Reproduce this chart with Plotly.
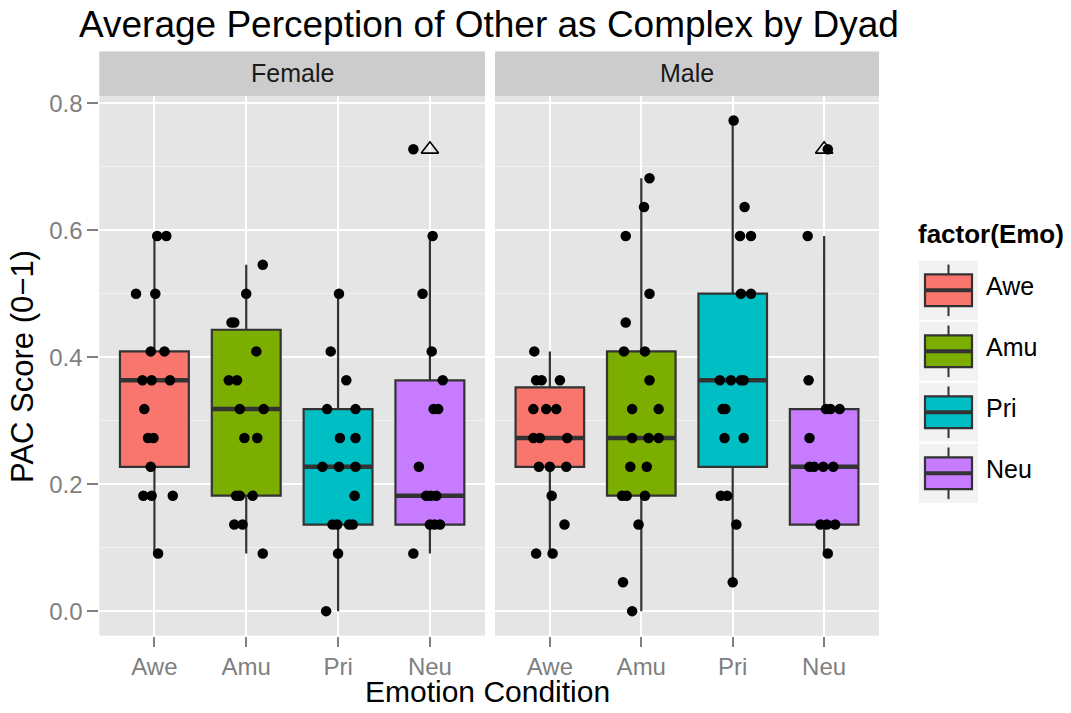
import plotly.graph_objects as go

W, H = 1071, 713
FONT = "Liberation Sans, Arial, sans-serif"

# ---------------- data ----------------
categories = ["Awe", "Amu", "Pri", "Neu"]
panels = ["Female", "Male"]
colors = ["#F8766D", "#7CAE00", "#00BFC4", "#C77CFF"]
y_tickvals = [0.0, 0.2, 0.4, 0.6, 0.8]
y_ticktext = ["0.0", "0.2", "0.4", "0.6", "0.8"]

# box statistics
female_q1 = [0.2273, 0.1818, 0.1364, 0.1364]
female_median = [0.3636, 0.3182, 0.2273, 0.1818]
female_q3 = [0.4091, 0.4432, 0.3182, 0.3636]
female_lower = [0.0909, 0.0909, 0.0, 0.0909]
female_upper = [0.5909, 0.5455, 0.5, 0.5909]

male_q1 = [0.2273, 0.1818, 0.2273, 0.1364]
male_median = [0.2727, 0.2727, 0.3636, 0.2273]
male_q3 = [0.3523, 0.4091, 0.5, 0.3182]
male_lower = [0.0909, 0.0, 0.0455, 0.0909]
male_upper = [0.4091, 0.6818, 0.7727, 0.5909]

# boxplot outliers
female_outlier_cat = ["Neu"]
female_outlier_val = [0.7273]
male_outlier_cat = ["Neu"]
male_outlier_val = [0.7273]

# jittered observations: values and horizontal jitter (category units)
female_awe_vals = [0.5909, 0.5909, 0.5, 0.5, 0.4091, 0.4091, 0.3636, 0.3636, 0.3636, 0.3182,
                   0.2727, 0.2727, 0.2273, 0.1818, 0.1818, 0.1818, 0.0909]
female_awe_jit = [0.03, 0.13, -0.20, 0.01, -0.04, 0.11, -0.13, -0.03, 0.17, -0.11,
                  -0.07, -0.01, -0.04, -0.12, -0.03, 0.20, 0.04]
female_amu_vals = [0.5455, 0.5, 0.4545, 0.4545, 0.4091, 0.3636, 0.3636, 0.3182, 0.3182, 0.2727,
                   0.2727, 0.1818, 0.1818, 0.1818, 0.1364, 0.1364, 0.0909]
female_amu_jit = [0.18, 0.0, -0.16, -0.13, 0.11, -0.19, -0.10, -0.07, 0.19, -0.02,
                  0.12, -0.11, -0.07, 0.07, -0.13, -0.04, 0.18]
female_pri_vals = [0.5, 0.4091, 0.3636, 0.3182, 0.3182, 0.2727, 0.2727, 0.2273, 0.2273, 0.2273,
                   0.1818, 0.1364, 0.1364, 0.1364, 0.1364, 0.0909, 0.0]
female_pri_jit = [0.01, -0.08, 0.09, -0.12, 0.19, 0.02, 0.19, -0.17, 0.01, 0.19,
                  0.18, -0.06, -0.01, 0.12, 0.16, 0.0, -0.13]
female_neu_vals = [0.7273, 0.5909, 0.5, 0.4091, 0.3636, 0.3182, 0.3182, 0.2273, 0.1818, 0.1818,
                   0.1818, 0.1364, 0.1364, 0.1364, 0.0909]
female_neu_jit = [-0.18, 0.03, -0.08, 0.02, 0.14, 0.04, 0.09, -0.12, -0.04, 0.01,
                  0.07, 0.0, 0.05, 0.11, -0.18]

male_awe_vals = [0.4091, 0.3636, 0.3636, 0.3636, 0.3182, 0.3182, 0.3182, 0.2727, 0.2727, 0.2727,
                 0.2273, 0.2273, 0.2273, 0.1818, 0.1364, 0.0909, 0.0909]
male_awe_jit = [-0.17, -0.15, -0.09, 0.11, -0.18, -0.04, 0.07, -0.18, -0.11, 0.19,
                -0.12, 0.0, 0.18, 0.02, 0.16, -0.15, 0.03]
male_amu_vals = [0.6818, 0.6364, 0.5909, 0.5, 0.4545, 0.4091, 0.4091, 0.3636, 0.3182, 0.3182,
                 0.2727, 0.2727, 0.2727, 0.2273, 0.2273, 0.1818, 0.1818, 0.1818, 0.1364, 0.0455, 0.0]
male_amu_jit = [0.09, 0.03, -0.17, 0.09, -0.17, -0.19, 0.04, 0.09, -0.10, 0.19,
                -0.10, 0.08, 0.19, -0.12, 0.06, -0.21, -0.16, 0.04, -0.03, -0.20, -0.10]
male_pri_vals = [0.7727, 0.6364, 0.5909, 0.5909, 0.5, 0.5, 0.3636, 0.3636, 0.3636, 0.3636,
                 0.3182, 0.3182, 0.2727, 0.2727, 0.1818, 0.1818, 0.1364, 0.0455]
male_pri_jit = [0.01, 0.13, 0.08, 0.20, 0.09, 0.20, -0.14, -0.02, 0.09, 0.12,
                -0.11, -0.08, -0.09, 0.12, -0.13, -0.06, 0.04, 0.0]
male_neu_vals = [0.7273, 0.5909, 0.3636, 0.3182, 0.3182, 0.3182, 0.2727, 0.2273, 0.2273, 0.2273,
                 0.2273, 0.1364, 0.1364, 0.1364, 0.0909]
male_neu_jit = [0.04, -0.18, -0.17, 0.02, 0.07, 0.17, -0.16, -0.16, -0.11, -0.01,
                0.10, -0.04, 0.03, 0.12, 0.04]

# ---------------- assemble ----------------
stats = {
    "Female": (female_q1, female_median, female_q3, female_lower, female_upper),
    "Male": (male_q1, male_median, male_q3, male_lower, male_upper),
}
outliers = {
    "Female": (female_outlier_cat, female_outlier_val),
    "Male": (male_outlier_cat, male_outlier_val),
}
points = {
    "Female": [(female_awe_vals, female_awe_jit), (female_amu_vals, female_amu_jit),
               (female_pri_vals, female_pri_jit), (female_neu_vals, female_neu_jit)],
    "Male": [(male_awe_vals, male_awe_jit), (male_amu_vals, male_amu_jit),
             (male_pri_vals, male_pri_jit), (male_neu_vals, male_neu_jit)],
}

pos = {c: i + 1 for i, c in enumerate(categories)}
BOXW = 0.75
LINE = "#333333"

fig = go.Figure()
axis_ids = {"Female": "x", "Male": "x2"}

for panel in panels:
    xa = axis_ids[panel]
    q1, med, q3, lo, hi = stats[panel]
    for i, cat in enumerate(categories):
        fig.add_trace(go.Box(
            x=[pos[cat]], q1=[q1[i]], median=[med[i]], q3=[q3[i]],
            lowerfence=[lo[i]], upperfence=[hi[i]],
            width=BOXW, whiskerwidth=0, fillcolor=colors[i],
            line=dict(color=LINE, width=2.2), boxpoints=False,
            xaxis=xa, yaxis="y", showlegend=False, hoverinfo="skip"))
    # thicker median bars (ggplot fatten)
    mx, my = [], []
    for i, cat in enumerate(categories):
        mx += [pos[cat] - BOXW / 2, pos[cat] + BOXW / 2, None]
        my += [med[i], med[i], None]
    fig.add_trace(go.Scatter(x=mx, y=my, mode="lines", line=dict(color=LINE, width=4.5),
                             xaxis=xa, yaxis="y", showlegend=False, hoverinfo="skip"))
    # outliers
    oc, ov = outliers[panel]
    fig.add_trace(go.Scatter(x=[pos[c] for c in oc], y=ov, mode="markers",
                             marker=dict(symbol="triangle-up-open", size=15,
                                         color="black", line=dict(width=1.6, color="black")),
                             xaxis=xa, yaxis="y", showlegend=False, hoverinfo="skip"))
    # jittered points
    px_, py_ = [], []
    for i, cat in enumerate(categories):
        vals, jit = points[panel][i]
        px_ += [pos[cat] + j for j in jit]
        py_ += vals
    fig.add_trace(go.Scatter(x=px_, y=py_, mode="markers",
                             marker=dict(size=10.5, color="black"),
                             xaxis=xa, yaxis="y", showlegend=False, hoverinfo="skip"))

# ---------------- layout ----------------
def fx(p):
    return p / W

def fy(p):
    return 1 - p / H

PANEL_X = {"Female": (99.3, 485), "Male": (495, 879)}
PANEL_TOP, PANEL_BOT = 90.7, 635
STRIP_TOP = 46

xcommon = dict(range=[0.4, 4.6], tickmode="array", tickvals=[pos[c] for c in categories],
               ticktext=categories, showgrid=True, gridcolor="white", gridwidth=2,
               zeroline=False, showline=False, ticks="outside", ticklen=10, tickwidth=2,
               tickcolor="#7F7F7F", tickfont=dict(family=FONT, size=24, color="#7F7F7F"),
               anchor="y", fixedrange=True)

fig.update_layout(
    width=W, height=H, autosize=False,
    margin=dict(l=0, r=0, t=0, b=0, pad=0),
    paper_bgcolor="white", plot_bgcolor="#E5E5E5",
    font=dict(family=FONT),
    xaxis=dict(domain=[fx(PANEL_X["Female"][0]), fx(PANEL_X["Female"][1])], **xcommon),
    xaxis2=dict(domain=[fx(PANEL_X["Male"][0]), fx(PANEL_X["Male"][1])], **xcommon),
    yaxis=dict(domain=[fy(PANEL_BOT), fy(PANEL_TOP)], range=[-0.0386, 0.8114],
               tickmode="array", tickvals=y_tickvals, ticktext=y_ticktext,
               showgrid=True, gridcolor="white", gridwidth=2, zeroline=False, showline=False,
               ticks="outside", ticklen=11, tickwidth=2, tickcolor="#7F7F7F",
               tickfont=dict(family=FONT, size=24, color="#7F7F7F"),
               minor=dict(tickvals=[0.1, 0.3, 0.5, 0.7], showgrid=True, gridcolor="#F2F2F2",
                          gridwidth=1.2, ticks=""),
               anchor="x", fixedrange=True),
)

shapes = []
annotations = []
# strips
for panel in panels:
    x0, x1 = PANEL_X[panel]
    shapes.append(dict(type="rect", xref="paper", yref="paper", x0=fx(x0), x1=fx(x1),
                       y0=fy(PANEL_TOP), y1=fy(STRIP_TOP), fillcolor="#CCCCCC",
                       line=dict(width=0), layer="below"))
    annotations.append(dict(text=panel, xref="paper", yref="paper", x=fx((x0 + x1) / 2),
                            y=fy(67.5), showarrow=False,
                            xanchor="center", yanchor="middle",
                            font=dict(family=FONT, size=25, color="#1A1A1A")))

# titles
annotations.append(dict(text="Average Perception of Other as Complex by Dyad", xref="paper",
                        yref="paper", x=fx(489), y=fy(19), showarrow=False, xanchor="center",
                        yanchor="middle", font=dict(family=FONT, size=37, color="black")))
annotations.append(dict(text="Emotion Condition", xref="paper", yref="paper", x=fx(487),
                        y=fy(691), showarrow=False, xanchor="center", yanchor="middle",
                        font=dict(family=FONT, size=30, color="black")))
annotations.append(dict(text="PAC Score (0\u22121)", xref="paper", yref="paper", x=fx(23),
                        y=fy(364), showarrow=False, xanchor="center", yanchor="middle",
                        textangle=-90, font=dict(family=FONT, size=31, color="black")))

# legend (drawn manually to mimic ggplot boxplot keys)
LEG_X0, LEG_X1 = 919, 978
KEY_TOP, KEY_H = 257, 61.5
annotations.append(dict(text="<b>factor(Emo)</b>", xref="paper", yref="paper", x=fx(916),
                        y=fy(230), showarrow=False, xanchor="left", yanchor="middle",
                        font=dict(family=FONT, size=26, color="black")))
for i, cat in enumerate(categories):
    t = KEY_TOP + i * KEY_H
    b = t + KEY_H - 2
    c = (t + b) / 2
    shapes.append(dict(type="rect", xref="paper", yref="paper", x0=fx(LEG_X0), x1=fx(LEG_X1),
                       y0=fy(b), y1=fy(t), fillcolor="#F2F2F2", line=dict(width=0)))
    shapes.append(dict(type="line", xref="paper", yref="paper", x0=fx(948.5), x1=fx(948.5),
                       y0=fy(c + 26), y1=fy(c - 26), line=dict(color=LINE, width=2)))
    shapes.append(dict(type="rect", xref="paper", yref="paper", x0=fx(925), x1=fx(972),
                       y0=fy(c + 16), y1=fy(c - 16), fillcolor=colors[i],
                       line=dict(color=LINE, width=2.2)))
    shapes.append(dict(type="line", xref="paper", yref="paper", x0=fx(925), x1=fx(972),
                       y0=fy(c), y1=fy(c), line=dict(color=LINE, width=4)))
    annotations.append(dict(text=cat, xref="paper", yref="paper", x=fx(984), y=fy(c - 4),
                            showarrow=False, xanchor="left", yanchor="middle",
                            font=dict(family=FONT, size=25, color="black")))

fig.update_layout(shapes=shapes, annotations=annotations)
fig.write_html("out.html", config={"displayModeBar": False},
               post_script="document.body.style.margin='0';document.body.style.overflow='hidden';")
